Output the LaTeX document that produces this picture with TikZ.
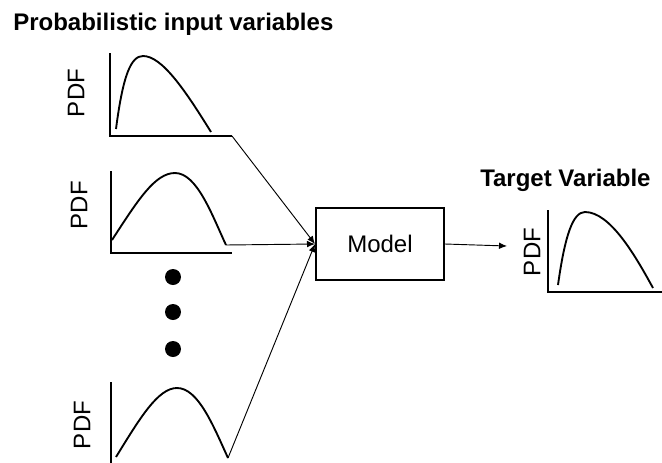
\documentclass[tikz,border=0pt]{standalone}
\usepackage{fontspec}
\setmainfont{Liberation Sans}
\usepackage{tikz}
\usetikzlibrary{positioning,arrows.meta}

\begin{document}
\begin{tikzpicture}
[
  x=0.75pt, y=-0.75pt,
  txt/.style={inner sep=0pt, font=\fontsize{18}{20}\selectfont},
  head/.style={txt, font=\fontsize{18}{20}\selectfont\bfseries, anchor=base west},
  pdf/.style={txt, rotate=90},
  axis/.style={line width=1.5pt},
  curve/.style={line width=1.4pt},
  link/.style={-{Latex[length=6pt,width=5pt]}, line width=0.7pt},
  model/.style={rectangle, draw, line width=1.5pt, minimum width=96pt, minimum height=54pt, txt},
]
\useasboundingbox (0,0) rectangle (662,462);
\clip (0,0) rectangle (662,462);

\node[head] (title-in) at (13,30) {Probabilistic input variables};
\node[head] (title-out) at (480,186) {Target Variable};

% input 1
\node[pdf] (pdf-a) at (76,93) {PDF};
\draw[axis] (110,53) -- (110,136) -- (232,136);
\coordinate (end-a) at (232,136);
\draw[curve] (116,129) .. controls (123,75) and (131,56) .. (143,56)
  .. controls (162,56) and (185,90) .. (211,132);

% input 2
\node[pdf] (pdf-b) at (79,205) {PDF};
\draw[axis] (111,171) -- (111,253) -- (232,253);
\coordinate (end-b) at (226,245);
\draw[curve] (112,240) .. controls (138,200) and (155,173) .. (175,173)
  .. controls (197,173) and (212,215) .. (226,245);

% dots
\foreach \y in {277,312,349}
  \fill (173,\y) circle (6pt);

% input n
\node[pdf] (pdf-c) at (82,425) {PDF};
\draw[axis] (111,382) -- (111,470);
\coordinate (end-c) at (228,458);
\draw[curve] (116,457) .. controls (140,418) and (158,388) .. (177,388)
  .. controls (198,388) and (213,425) .. (228,458);

% model
\node[model] (model) at (380,244) {Model};
\draw[link] (end-a) -- (model.west);
\draw[link] (end-b) -- (model.west);
\draw[link] (end-c) -- (model.west);

% target
\coordinate (tgt) at (507,246);
\draw[link] (model.east) -- (tgt);
\node[pdf] (pdf-t) at (532,252) {PDF};
\draw[axis] (548,210) -- (548,292) -- (670,292);
\draw[curve] (558,285) .. controls (565,235) and (573,212) .. (585,212)
  .. controls (610,212) and (635,255) .. (653,288);
\end{tikzpicture}
\end{document}
